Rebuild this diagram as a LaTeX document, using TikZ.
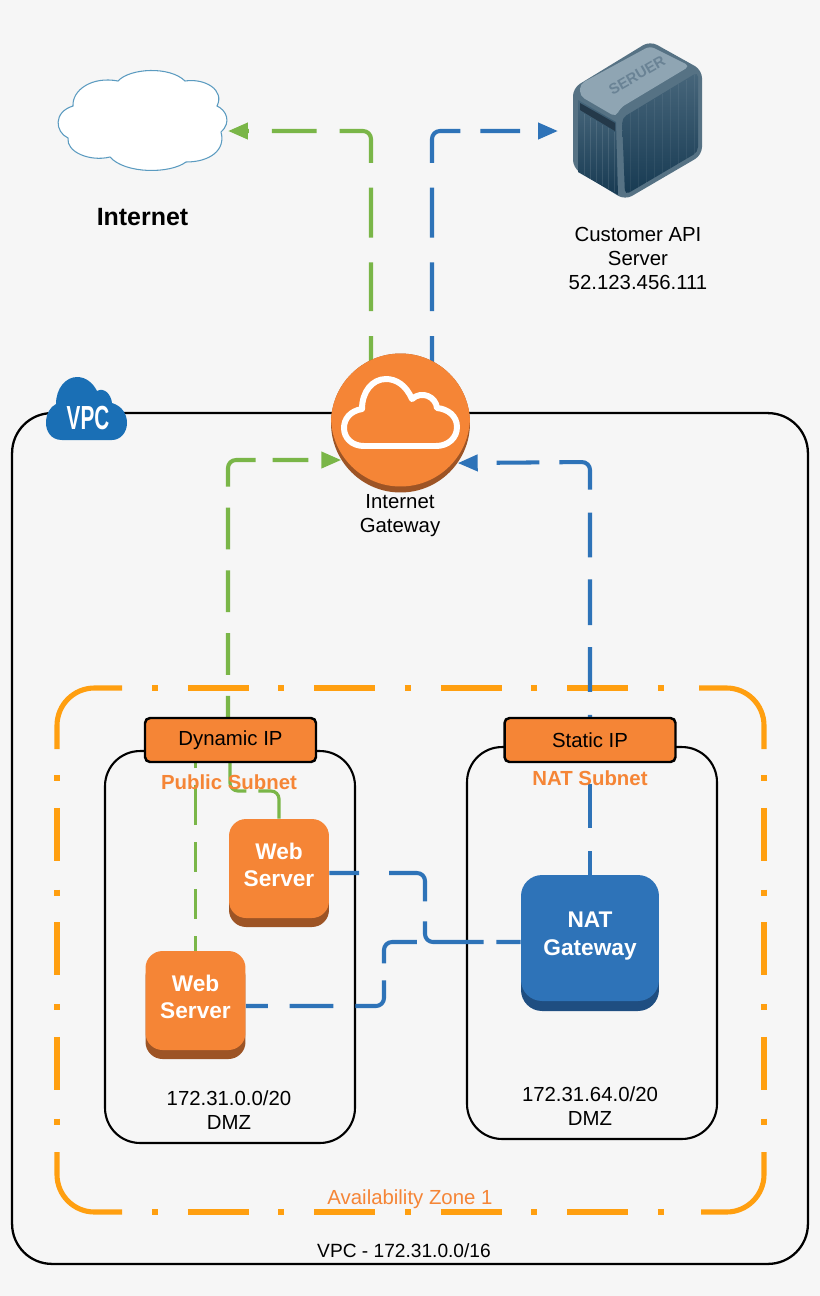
\documentclass[tikz,border=0pt]{standalone}
\usepackage{fontspec}
\setmainfont{Liberation Sans}
\usetikzlibrary{arrows.meta,shadows}
\pgfdeclarelayer{back}
\pgfdeclarelayer{lines}
\pgfsetlayers{back,lines,main}
\newdimen\px
\px=0.5669pt
\newcommand{\lift}{\rule[-4.5pt]{0pt}{4.5pt}}
\definecolor{bgcol}{HTML}{F6F6F6}
\definecolor{awsorange}{HTML}{F58536}
\definecolor{awsbrown}{HTML}{9D5425}
\definecolor{awsblue}{HTML}{2E73B8}
\definecolor{natdark}{HTML}{1F4E81}
\definecolor{vpcblue}{HTML}{1A6FB5}
\definecolor{linegreen}{HTML}{7AB648}
\definecolor{zoneorange}{HTML}{FF9F10}
\definecolor{cloudline}{HTML}{5B9BC0}
\definecolor{srvedge}{HTML}{567284}
\definecolor{srvdark}{HTML}{173A52}
\definecolor{srvtop}{HTML}{8FA5B3}
\definecolor{srvmid}{HTML}{47667B}
\definecolor{srvslot}{HTML}{24394A}
\definecolor{srvtext}{HTML}{6A8395}
\tikzset{
  lbl/.style={font=\fontsize{11.6}{13.9}\selectfont,align=center,inner sep=0pt},
  boldlbl/.style={font=\fontsize{11.6}{13.9}\selectfont\bfseries,text=awsorange,inner sep=0pt},
  subnetbox/.style={draw=black,line width=1.2pt,rounded corners=0.7cm,minimum width=5cm,minimum height=7.84cm},
  ipbox/.style={draw=black,line width=1.4pt,fill=awsorange,rounded corners=0.1cm,minimum width=3.42cm,minimum height=0.88cm,lbl},
  webbox/.style={fill=awsorange,text=white,rounded corners=0.34cm,minimum width=2cm,minimum height=1.98cm,align=center,
    font=\fontsize{12.9}{15.3}\selectfont\bfseries,inner sep=0pt,
    general shadow={fill=awsbrown,shadow yshift=-0.18cm}},
  natbox/.style={fill=awsblue,text=white,rounded corners=0.42cm,minimum width=2.76cm,minimum height=2.52cm,align=center,
    font=\fontsize{12.9}{15.8}\selectfont\bfseries,inner sep=0pt,
    general shadow={fill=natdark,shadow yshift=-0.2cm}},
  conn/.style={line width=2.3pt,rounded corners=0.16cm},
  thinconn/.style={line width=1.8pt,rounded corners=0.16cm},
  tip/.style={-{Triangle[length=0.4cm,width=0.32cm]}},
  zoneline/.style={draw=zoneorange,line width=2.9pt},
  zonecorner/.style={zoneline,rounded corners=0.75cm},
}
\begin{document}
\begin{tikzpicture}[x=0.02cm,y=-0.02cm]
  \useasboundingbox (0,0) rectangle (820,1296);
  \begin{pgfonlayer}{back}
  \fill[bgcol] (0,0) rectangle (820,1296);
  % vpc and zone
  \node[draw=black,line width=1.3pt,rounded corners=0.8cm,minimum width=15.92cm,minimum height=17.02cm] (vpc) at (410,838.5) {};
  \foreach \yy in {688,1212}{
    \draw[zoneline,dash pattern=on 6\px off 30\px on 61\px off 30\px] (152,\yy) -- (668,\yy);}
  \foreach \xx in {57,764}{
    \draw[zoneline,dash pattern=on 6\px off 27\px on 53\px off 29\px] (\xx,775) -- (\xx,1126);}
  \draw[zonecorner] (57,749) -- (57,688) -- (122,688);
  \draw[zonecorner] (699,688) -- (764,688) -- (764,749);
  \draw[zonecorner] (764,1152) -- (764,1212) -- (701,1212);
  \draw[zonecorner] (122,1212) -- (57,1212) -- (57,1152);
  \node[subnetbox] (pubnet) at (230,947) {};
  \node[subnetbox] (natnet) at (592,943) {};
  \end{pgfonlayer}

  % vpc cloud
  \fill[vpcblue] (62,440) .. controls (50,440) and (46,430) .. (46,423)
    .. controls (46,414) and (50,407) .. (56,404)
    .. controls (56,388) and (66,377) .. (77,377)
    .. controls (86,377) and (93,383) .. (97,391)
    .. controls (104,387) and (111,394) .. (112,403)
    .. controls (122,406) and (127,414) .. (127,423)
    .. controls (127,433) and (120,440) .. (112,440) -- cycle;
  \node[text=white,font=\fontsize{19}{19}\selectfont\bfseries,xscale=0.62,inner sep=0pt] (vpctext) at (88,418) {VPC};

  % internet cloud
  \draw[cloudline,fill=white,line width=0.6pt] (118,81)
    .. controls (130,68) and (170,66) .. (185,81)
    .. controls (205,78) and (225,90) .. (217,106)
    .. controls (226,110) and (232,122) .. (221,132)
    .. controls (226,150) and (210,162) .. (186,162)
    .. controls (170,174) and (125,174) .. (110,157)
    .. controls (90,162) and (66,152) .. (68,138)
    .. controls (55,132) and (53,112) .. (73,106)
    .. controls (72,90) and (92,76) .. (118,81) -- cycle;
  \coordinate (cloudtip) at (228,131);
  \node[font=\fontsize{14.2}{16}\selectfont\bfseries,inner sep=0pt] (internet) at (142.5,217) {Internet};

  % server
  \fill[rounded corners=0.16cm,srvedge] (650,41) -- (702,70) -- (702,155) -- (625,200) -- (573,168) -- (573,88) -- cycle;
  \fill[rounded corners=0.1cm,srvtop] (580,84) -- (650,46) -- (690,66) -- (620,108) -- (616,117) -- (580,96) -- cycle;
  \shade[rounded corners=0.1cm,top color=srvmid,bottom color=srvdark] (622,118) -- (698,72) -- (698,152) -- (625,195) -- cycle;
  \shade[top color=srvmid,bottom color=srvdark] (578,100) -- (616,122) -- (618,195) -- (578,172) -- cycle;
  \fill[srvslot] (580,103) -- (615,123) -- (615,131) -- (580,110) -- cycle;
  \foreach \x in {584,590,...,614}{
    \draw[white,opacity=0.1,line width=0.3pt] (\x,{112+0.58*(\x-580)}) -- (\x,{172+0.55*(\x-578)});}
  \foreach \x in {630,638,...,694}{
    \draw[white,opacity=0.06,line width=0.3pt] (\x,{118-0.6*(\x-622)}) -- (\x,{195-0.59*(\x-625)});}
  \node[rotate=30,font=\fontsize{8.5}{9}\selectfont\bfseries,text=srvtext,inner sep=0pt] (servertext) at (637,75) {SERUER};
  \coordinate (servertip) at (558,131);
  \node[lbl] (apilabel) at (638,258.5) {Customer API\\Server\\52.123.456.111};

  % gateway
  \node[circle,fill=awsbrown,minimum size=2.78cm,inner sep=0pt] (gateway) at (400.5,423) {};
  \begin{scope}
    \clip (400.5,423) circle (1.39cm);
    \fill[awsorange] (400.5,417) circle (1.39cm);
  \end{scope}
  \draw[white,line width=3.4pt,line join=round] (364,446) -- (436,446)
    .. controls (448,446) and (457,438) .. (457,427)
    .. controls (457,416) and (448,409) .. (437,408)
    .. controls (436,397) and (422,390) .. (412,399)
    .. controls (406,385) and (396,379) .. (386,379)
    .. controls (372,379) and (362,392) .. (362,409)
    .. controls (350,411) and (344,419) .. (344,428)
    .. controls (344,438) and (352,446) .. (364,446) -- cycle;
  \node[lbl] (gwlabel) at (400,515.5) {Internet\\Gateway};

  % boxes
  \node[ipbox] (dynip) at (230.5,740) {Dynamic IP};
  \node[ipbox] (statip) at (590,740) {Static IP};
  \node[webbox] (webone) at (279,868.5) {Web\\Server\lift};
  \node[webbox] (webtwo) at (195.5,1000.5) {Web\\Server\lift};
  \node[natbox] (nat) at (590,938) {NAT\\Gateway\lift};

  % connectors
  \coordinate (greenup) at (371,131);
  \coordinate (blueup) at (432,131);
  \coordinate (greenleft) at (228,460);
  \coordinate (blueright) at (590,462);
  \coordinate (webelbowa) at (230,791);
  \coordinate (webelbowb) at (279,791);
  \coordinate (webturn) at (425,873);
  \coordinate (webjoin) at (425,942);
  \coordinate (lowturn) at (384,1006);
  \coordinate (lowjoin) at (384,942);
  \coordinate (gwgreen) at (371,362);
  \coordinate (gwblue) at (432,362);
  \begin{pgfonlayer}{lines}
  \draw[conn,linegreen,tip,dash pattern=on 26\px off 25\px on 49\px off 25\px on 50\px off 25\px on 60\px off 23\px on 45\px off 23\px on 40\px off 10\px]
    (gwgreen) -- (greenup) -- (cloudtip);
  \draw[conn,awsblue,tip,dash pattern=on 26\px off 25\px on 49\px off 25\px on 50\px off 25\px on 57\px off 20\px on 40\px off 20\px on 40\px off 10\px]
    (gwblue) -- (blueup) -- (servertip);
  \draw[conn,linegreen,tip,dash pattern=on 21\px off 21\px on 42\px off 21\px on 42\px off 21\px on 42\px off 21\px on 51\px off 17\px on 36\px off 17\px on 40\px off 10\px]
    (dynip.north -| greenleft) -- (greenleft) -- (gateway.212);
  \draw[conn,awsblue,tip,dash pattern=on 2\px off 23\px on 45\px off 22\px on 46\px off 22\px on 45\px off 23\px on 55\px off 20\px on 43\px off 21\px on 40\px off 10\px]
    (statip.north) -- (blueright) -- (gateway.325);
  \draw[thinconn,linegreen,dash pattern=on 15\px off 17\px on 30\px off 17\px on 30\px off 17\px on 40\px off 17\px on 20\px off 10\px]
    (webtwo.north) -- (webtwo.north |- dynip.south);
  \draw[thinconn,linegreen,dash pattern=on 45\px off 12\px on 60\px off 10\px]
    (webone.north) -- (webelbowb) -- (webelbowa) -- (webelbowa |- dynip.south);
  \draw[conn,awsblue,dash pattern=on 30\px off 30\px on 61\px off 20\px on 76\px off 13\px on 40\px off 10\px]
    (webone.east |- webturn) -- (webturn) -- (webjoin) -- (webjoin -| nat.west);
  \draw[conn,awsblue,dash pattern=on 22\px off 22\px on 44\px off 22\px on 51\px off 17\px on 51\px off 200\px]
    (webtwo.east |- lowturn) -- (lowturn) -- (lowjoin) -- (lowjoin -| nat.west);
  \draw[conn,awsblue,dash pattern=on 24\px off 23\px on 44\px off 30\px]
    (nat.north) -- (statip.south);
  \end{pgfonlayer}

  % labels
  \node[boldlbl] (publabel) at (229,782) {Public Subnet};
  \node[boldlbl] (natlabel) at (590,778) {NAT Subnet};
  \node[lbl] (pubcidr) at (229,1110) {172.31.0.0/20\\DMZ};
  \node[lbl] (natcidr) at (590,1106) {172.31.64.0/20\\DMZ};
  \node[lbl,text=awsorange] (zonelabel) at (410,1199.5) {Availability Zone 1};
  \node[lbl,font=\fontsize{10.9}{13}\selectfont] (vpclabel) at (404,1251) {VPC - 172.31.0.0/16};
\end{tikzpicture}
\end{document}
